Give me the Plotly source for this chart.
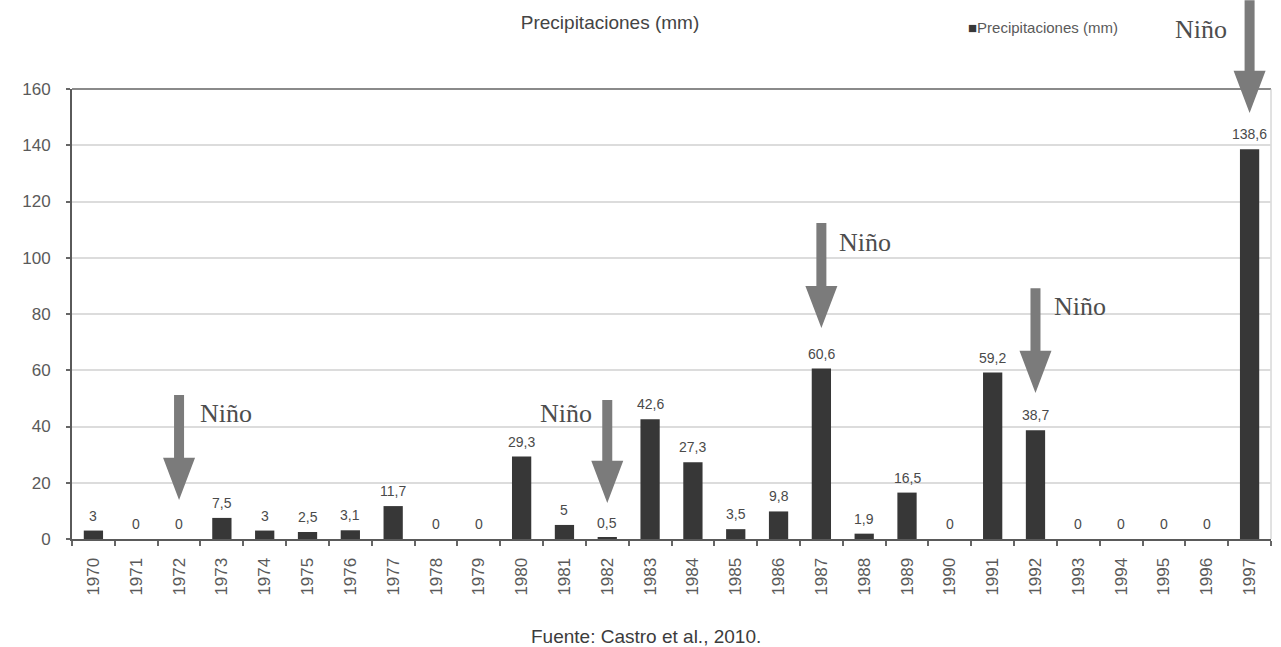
import plotly.graph_objects as go

# Annual rainfall (mm), 1970-1997
years = [str(y) for y in range(1970, 1998)]
rain_mm = [3, 0, 0, 7.5, 3, 2.5, 3.1, 11.7, 0, 0,
           29.3, 5, 0.5, 42.6, 27.3, 3.5, 9.8, 60.6, 1.9, 16.5,
           0, 59.2, 38.7, 0, 0, 0, 0, 138.6]

# El Niño years marked with arrows (values in mm on the y scale)
nino_years = ["1972", "1982", "1987", "1992", "1997"]
arrow_tip = [13.9, 12.8, 75.0, 51.9, 151.5]
arrow_top = [51.2, 49.4, 112.4, 89.2, 191.6]
nino_label_y = [44.8, 44.8, 105.6, 82.5, 181.3]
nino_label_dx = [47, -41, 44, 45, -49]

y_ticks = [0, 20, 40, 60, 80, 100, 120, 140, 160]
Y_MAX = 160

BAR_COLOR = "#373737"
ARROW_COLOR = "#7b7b7b"
TEXT_COLOR = "#5a5a5a"
HEAD_LEN = 15.0      # arrow head length, y units
HEAD_HALF = 16       # arrow head half width, px
SHAFT_HALF = 5       # arrow shaft half width, px

fig = go.Figure()
fig.add_trace(go.Bar(
    x=years, y=rain_mm, name="Precipitaciones (mm)",
    marker=dict(color=BAR_COLOR, line=dict(width=0)),
    showlegend=False,
))

# value labels above each bar (comma decimal); x given as category index
for i, v in enumerate(rain_mm):
    fig.add_annotation(
        x=i, y=v, xref="x", yref="y", text=f"{v:g}".replace(".", ","),
        showarrow=False, yanchor="bottom", yshift=5,
        font=dict(family="Liberation Sans, Arial", size=14, color="#4a4a4a"),
    )

shapes = []
n = len(years)
for yr, tip, top, ly, dx in zip(nino_years, arrow_tip, arrow_top, nino_label_y, nino_label_dx):
    xa = (years.index(yr) + 0.5) / n
    t = tip / Y_MAX
    h = (tip + HEAD_LEN) / Y_MAX
    u = top / Y_MAX
    path = (f"M{-SHAFT_HALF},{u} L{SHAFT_HALF},{u} L{SHAFT_HALF},{h} "
            f"L{HEAD_HALF},{h} L0,{t} L{-HEAD_HALF},{h} L{-SHAFT_HALF},{h} Z")
    shapes.append(dict(
        type="path", xref="paper", yref="paper", xsizemode="pixel", xanchor=xa,
        path=path, fillcolor=ARROW_COLOR, line=dict(width=0), layer="above",
    ))
    fig.add_annotation(
        x=xa, y=ly / Y_MAX, xref="paper", yref="paper", xshift=dx,
        text="Niño", showarrow=False, xanchor="center", yanchor="middle",
        font=dict(family="Liberation Serif, Times New Roman", size=26, color="#4d4d4d"),
    )

# plot frame: top and right edges
shapes.append(dict(type="line", xref="paper", yref="paper", x0=0, x1=1, y0=1, y1=1,
                   line=dict(color="#8a8a8a", width=2), layer="below"))
shapes.append(dict(type="line", xref="paper", yref="paper", x0=1, x1=1, y0=0, y1=1,
                   line=dict(color="#c4c4c4", width=1), layer="below"))

# legend entry
fig.add_annotation(
    x=0.746, y=1.1356, xref="paper", yref="paper", xanchor="left", yanchor="middle",
    showarrow=False,
    text=f"<span style='color:{BAR_COLOR}'>■</span>Precipitaciones (mm)",
    font=dict(family="Liberation Sans, Arial", size=15, color=TEXT_COLOR),
)

# source note
fig.add_annotation(
    x=0.4787, y=-0.2156, xref="paper", yref="paper", xanchor="center", yanchor="middle",
    showarrow=False, text="Fuente: Castro et al., 2010.",
    font=dict(family="Liberation Sans, Arial", size=19, color="#3c3c3c"),
)

fig.update_layout(
    width=1281, height=647,
    margin=dict(l=72, r=10, t=89, b=108),
    paper_bgcolor="white", plot_bgcolor="white",
    bargap=0.55,
    shapes=shapes,
    title=dict(
        text="Precipitaciones (mm)", x=610 / 1281, xanchor="center",
        y=1 - 22 / 647, yanchor="middle", xref="container", yref="container",
        font=dict(family="Liberation Sans, Arial", size=19, color="#444444"),
    ),
    xaxis=dict(
        type="category", tickangle=-90, tickson="boundaries",
        ticks="outside", ticklen=5, tickcolor="#666666", tickwidth=1.5,
        showline=True, linecolor="#5a5a5a", linewidth=2,
        showgrid=False, ticklabelstandoff=10,
        tickfont=dict(family="Liberation Sans, Arial", size=17, color=TEXT_COLOR),
        range=[-0.5, n - 0.5],
    ),
    yaxis=dict(
        range=[0, Y_MAX], tickvals=y_ticks,
        ticks="outside", ticklen=4, tickcolor="#666666", tickwidth=1.5,
        showline=True, linecolor="#5a5a5a", linewidth=2,
        showgrid=True, gridcolor="#dcdcdc", gridwidth=1.5,
        zeroline=False, ticklabelstandoff=12,
        tickfont=dict(family="Liberation Sans, Arial", size=17, color=TEXT_COLOR),
    ),
)

fig.write_html("out.html")
